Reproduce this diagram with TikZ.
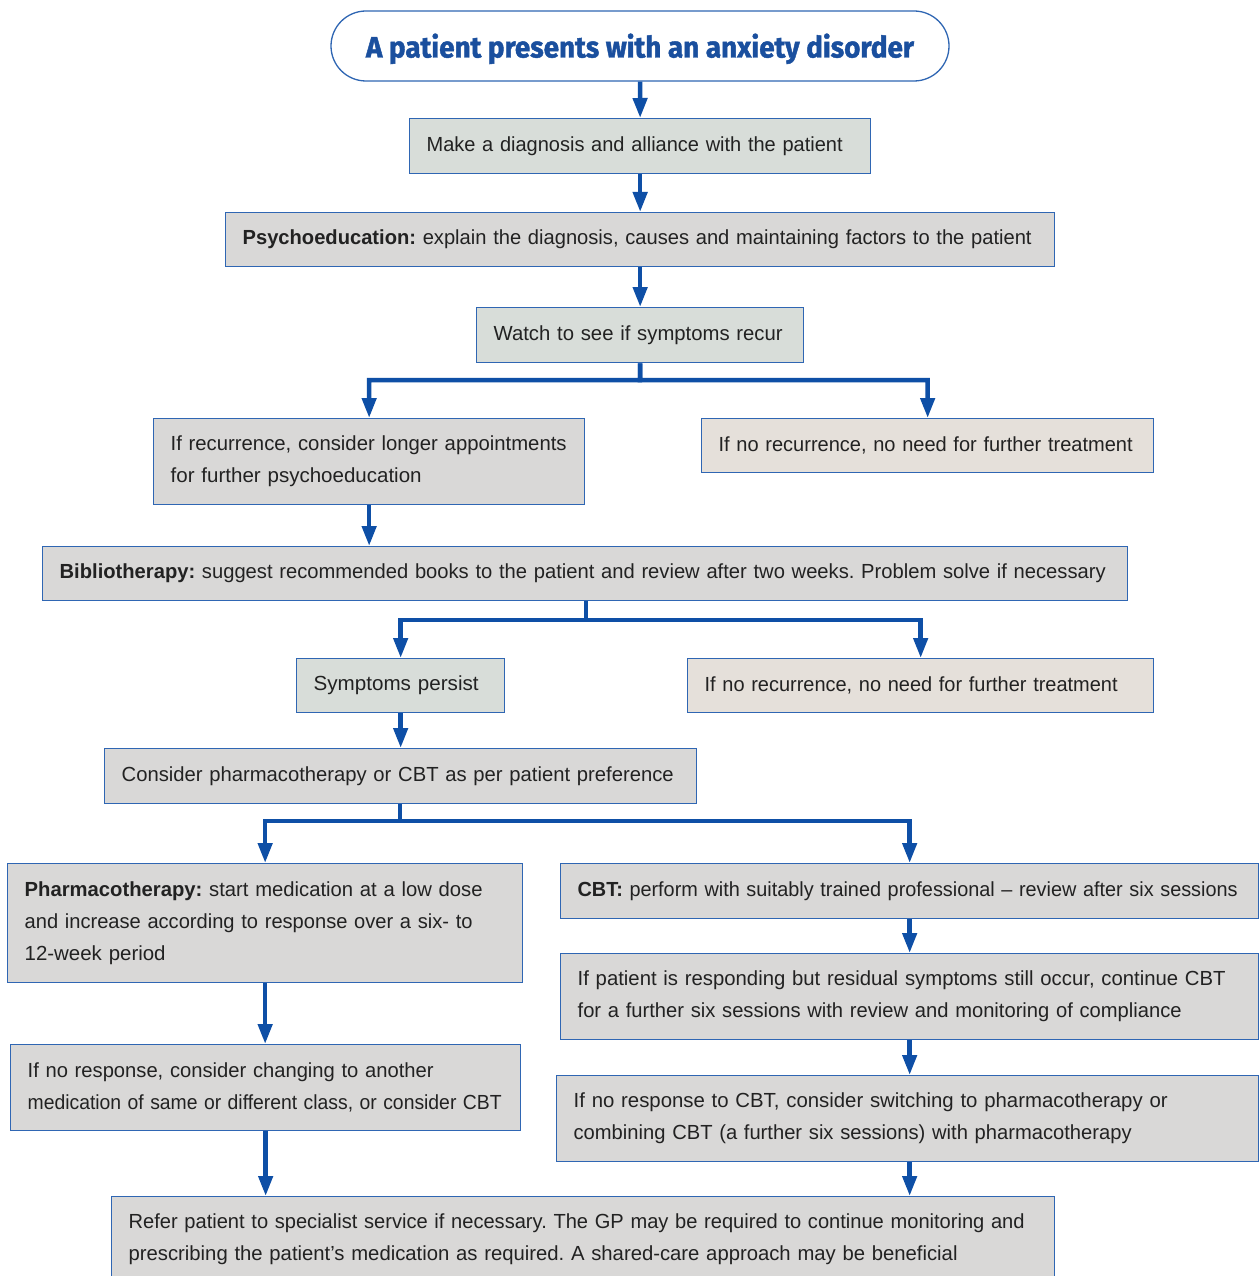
\documentclass[tikz,border=0pt]{standalone}
\usepackage{fontspec}
\setmainfont{Liberation Sans}
\newfontfamily\titlefont[FakeBold=1.5]{Fira Sans}
\usetikzlibrary{arrows.meta}
\definecolor{bordercol}{HTML}{2F66B3}
\definecolor{arrowblue}{HTML}{0E4FA6}
\definecolor{titleblue}{HTML}{1A4F9E}
\definecolor{greyfill}{HTML}{D9D8D7}
\definecolor{greenfill}{HTML}{D8DDD9}
\definecolor{beigefill}{HTML}{E5E0DA}
\definecolor{txt}{HTML}{222222}
\newcommand\lline[2]{\resizebox{#1pt}{\height}{#2}}
\frenchspacing
\tikzset{
  box/.style={draw=bordercol, line width=1.3pt, fill=greyfill, anchor=north west,
    inner xsep=17pt, inner ysep=0pt, align=left, text=txt,
    font=\fontsize{20.4}{32}\selectfont\frenchspacing},
  greenbox/.style={box, fill=greenfill},
  beigebox/.style={box, fill=beigefill},
  arr/.style={draw=arrowblue, line width=4.5pt, line join=miter,
    -{Triangle[width=14pt,length=20pt]}},
}
\begin{document}
\begin{tikzpicture}[x=1pt,y=-1pt]
\clip (0,0) rectangle (1259,1276);
\fill[white] (0,0) rectangle (1259,1276);
% title
\node[draw=bordercol, line width=1.3pt, rounded corners=35pt, minimum width=618pt,
  minimum height=70pt, inner sep=0pt, text=titleblue] (title) at (640,46) {};
\node[text=titleblue, inner sep=0pt, anchor=base] (titletext) at (640,57.5)
  {\resizebox{548pt}{\height}{\titlefont\bfseries\fontsize{29.5}{34}\selectfont A patient presents with an anxiety disorder}};
% boxes
\node[greenbox, text width=427pt, minimum height=55pt] (diag) at (409,118)
  {\lline{416}{Make a diagnosis and alliance with the patient}};
\node[box, text width=795pt, minimum height=54pt] (psy) at (225,212)
  {\lline{789}{\textbf{Psychoeducation:} explain the diagnosis, causes and maintaining factors to the patient}};
\node[greenbox, text width=293pt, minimum height=55pt] (watch) at (476,307)
  {\lline{289}{Watch to see if symptoms recur}};
\node[box, text width=397pt, minimum height=86pt] (rec) at (153,418)
  {\lline{396}{If recurrence, consider longer appointments}\\\lline{251}{for further psychoeducation}};
\node[beigebox, text width=418pt, minimum height=54pt] (norec) at (701,418)
  {\lline{414}{If no recurrence, no need for further treatment}};
\node[box, text width=1051pt, minimum height=54pt] (bib) at (42,546)
  {\lline{1046}{\textbf{Bibliotherapy:} suggest recommended books to the patient and review after two weeks. Problem solve if necessary}};
\node[greenbox, text width=174pt, minimum height=54pt] (symp) at (296,658)
  {\lline{165}{Symptoms persist}};
\node[beigebox, text width=432pt, minimum height=54pt] (norecb) at (687,658)
  {\lline{413}{If no recurrence, no need for further treatment}};
\node[box, text width=558pt, minimum height=55pt] (cons) at (104,748)
  {\lline{552}{Consider pharmacotherapy or CBT as per patient preference}};
\node[box, text width=481pt, minimum height=119pt] (pharm) at (7,863)
  {\lline{458}{\textbf{Pharmacotherapy:} start medication at a low dose}\\\lline{448}{and increase according to response over a six- to}\\\lline{141}{12-week period}};
\node[box, text width=664pt, minimum height=55pt] (cbt) at (560,863)
  {\lline{660}{\textbf{CBT:} perform with suitably trained professional -- review after six sessions}};
\node[box, text width=664pt, minimum height=86pt] (resp) at (560,953)
  {\lline{648}{If patient is responding but residual symptoms still occur, continue CBT}\\\lline{604}{for a further six sessions with review and monitoring of compliance}};
\node[box, text width=476pt, minimum height=86pt] (nresp) at (10,1044)
  {\lline{406}{If no response, consider changing to another}\\\lline{474}{medication of same or different class, or consider CBT}};
\node[box, text width=668pt, minimum height=86pt] (ncbt) at (556,1075)
  {\lline{594}{If no response to CBT, consider switching to pharmacotherapy or}\\\lline{558}{combining CBT (a further six sessions) with pharmacotherapy}};
\node[box, text width=909pt, minimum height=86pt] (refer) at (111,1196)
  {\lline{896}{Refer patient to specialist service if necessary. The GP may be required to continue monitoring and}\\\lline{829}{prescribing the patient's medication as required. A shared-care approach may be beneficial}};
% junctions
\coordinate (j1) at (640,380);
\coordinate (j2) at (586,620);
\coordinate (j3) at (400,821);
% connectors
\draw[arr] (title.south) -- (diag.north);
\draw[arr] (diag.south) -- (psy.north -| diag.south);
\draw[arr] (psy.south -| watch.north) -- (watch.north);
\draw[arr] (watch.south) -- (j1) -| (rec.north);
\draw[arr] (watch.south) -- (j1) -| (norec.north);
\draw[arr] (rec.south) -- (bib.north -| rec.south);
\draw[arr] (bib.south -| j2) -- (j2) -| (symp.north);
\draw[arr] (bib.south -| j2) -- (j2) -| (norecb.north);
\draw[arr] (symp.south) -- (cons.north -| symp.south);
\draw[arr] (cons.south -| j3) -- (j3) -| (pharm.north);
\draw[arr] (cons.south -| j3) -- (j3) -| (cbt.north);
\draw[arr] (pharm.south) -- (nresp.north -| pharm.south);
\draw[arr] (cbt.south) -- (resp.north -| cbt.south);
\draw[arr] (resp.south) -- (ncbt.north -| resp.south);
\draw[arr] (nresp.south) -- (refer.north -| nresp.south);
\draw[arr] (ncbt.south -| resp.south) -- (refer.north -| resp.south);
\end{tikzpicture}
\end{document}
